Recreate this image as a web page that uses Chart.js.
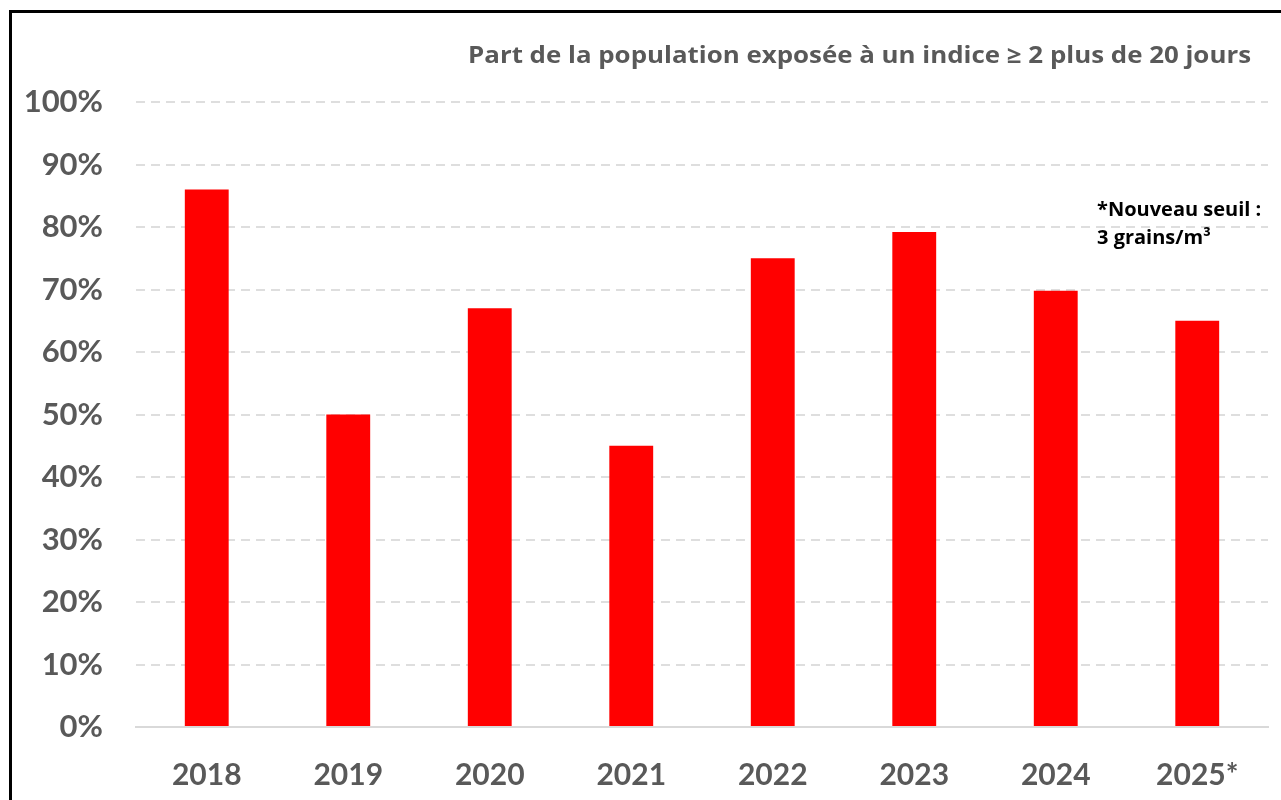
<!DOCTYPE html>
<html lang="fr">
<head>
<meta charset="utf-8">
<title>Part de la population exposée</title>
<script src="https://cdn.jsdelivr.net/npm/chart.js@4.4.1/dist/chart.umd.min.js"></script>
<style>
    html, body { margin: 0; padding: 0; background: #fff; overflow: hidden; }
    #frame { position: absolute; left: 9px; top: 10px; width: 1400px; height: 900px; border: 3px solid #000; }
    #wrap { position: absolute; left: 0; top: 0; width: 1281px; height: 800px; }
</style>
</head>
<body>
<div id="frame"></div>
<div id="wrap"><canvas id="chart" width="1281" height="800"></canvas></div>
<script>
// data
const years = ['2018', '2019', '2020', '2021', '2022', '2023', '2024', '2025*'];
const shares = [86, 50, 67, 45, 75, 79.2, 69.8, 65];
const yTicks = [0, 10, 20, 30, 40, 50, 60, 70, 80, 90, 100];

const titleText = 'Part de la population exposée à un indice ≥ 2 plus de 20 jours';
const noteLines = ['*Nouveau seuil :', '3 grains/m³'];

const FONT = 'Lato, "Open Sans", sans-serif';
const TITLE_FONT = '"Open Sans", Lato, sans-serif';
const GREY = '#595959';

// title + note drawn by hand so they sit where the original has them
const textPlugin = {
    id: 'texts',
    afterDraw(chart) {
        const c = chart.ctx;
        c.save();
        c.fillStyle = GREY;
        c.textBaseline = 'alphabetic';
        c.textAlign = 'left';
        c.font = `bold 23px ${TITLE_FONT}`;
        // stretch a little so the line spans 468..1251 like the original
        const w = c.measureText(titleText).width;
        c.save();
        c.translate(468, 63);
        c.scale(783 / w, 1);
        c.fillText(titleText, 0, 0);
        c.restore();

        c.fillStyle = '#000';
        c.font = `bold 20px ${TITLE_FONT}`;
        c.fillText(noteLines[0], 1097, 216);
        c.fillText(noteLines[1], 1097, 244);
        c.restore();
    }
};

function renderChart() {
    const ctx = document.getElementById('chart').getContext('2d');
    new Chart(ctx, {
        type: 'bar',
        data: {
            labels: years,
            datasets: [{ data: shares, backgroundColor: '#ff0000', barPercentage: 0.31, categoryPercentage: 1 }]
        },
        options: {
            responsive: false,
            animation: false,
            layout: { padding: { left: 0, right: 13, top: 102, bottom: 0 } },
            plugins: { legend: { display: false }, tooltip: { enabled: false }, title: { display: false } },
            scales: {
                x: {
                    grid: { display: false, drawTicks: false },
                    border: { display: true, color: '#d9d9d9', width: 2 },
                    ticks: { color: GREY, padding: 30, font: { family: FONT, size: 30, weight: 'bold' } },
                    afterFit: s => { s.height = 73; }
                },
                y: {
                    min: 0, max: 100,
                    afterBuildTicks: s => { s.ticks = yTicks.map(v => ({ value: v })); },
                    grid: {
                        drawTicks: false,
                        lineWidth: 2,
                        color: c => (c.tick && c.tick.value === 0 ? 'rgba(0,0,0,0)' : '#dedede')
                    },
                    border: { display: false, dash: [9, 6] },
                    ticks: {
                        color: GREY, padding: 33,
                        font: { family: FONT, size: 31, weight: 'bold' },
                        callback: v => v + '%'
                    },
                    afterFit: s => { s.width = 136; }
                }
            }
        },
        plugins: [textPlugin]
    });
}

window.addEventListener('DOMContentLoaded', renderChart);
</script>
</body>
</html>
